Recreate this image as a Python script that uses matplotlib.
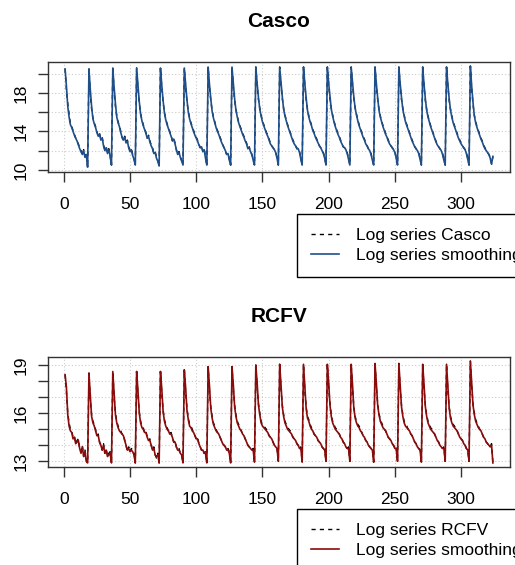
import matplotlib.pyplot as plt

plt.rcParams['font.family'] = ['Liberation Sans', 'DejaVu Sans']

# each series is stored as 18 cycles of 18 observations (t = 1..324)
casco_log_cycles = [
    [20.5, 18.3, 16.9, 15.8, 14.8, 14.5, 14.1, 13.7, 13.3, 13.0, 12.7, 12.3, 12.0, 11.5, 12.1, 11.4, 11.8, 10.2],
    [20.5, 18.0, 16.3, 15.4, 14.9, 14.5, 14.0, 13.5, 13.8, 13.2, 13.4, 12.6, 12.1, 12.4, 11.8, 12.2, 11.5, 10.5],
    [20.6, 18.2, 16.6, 15.6, 15.0, 14.6, 14.0, 13.4, 13.0, 13.5, 12.9, 13.1, 12.4, 12.0, 12.2, 11.6, 11.2, 10.5],
    [20.6, 18.4, 16.9, 15.9, 15.2, 14.7, 14.3, 13.9, 13.3, 13.6, 13.0, 12.6, 12.3, 11.7, 11.9, 11.3, 11.0, 10.4],
    [20.6, 18.5, 17.0, 16.0, 15.3, 14.8, 14.4, 14.0, 13.6, 13.0, 13.3, 12.8, 12.1, 11.6, 11.9, 11.4, 11.0, 10.5],
    [20.6, 18.6, 17.1, 16.1, 15.4, 14.9, 14.5, 14.1, 13.7, 13.4, 13.1, 12.7, 12.3, 12.5, 11.9, 12.2, 11.3, 10.5],
    [20.7, 18.6, 17.2, 16.2, 15.5, 15.0, 14.5, 14.1, 13.8, 13.4, 13.0, 12.6, 12.3, 12.0, 11.6, 11.8, 11.1, 10.5],
    [20.7, 18.7, 17.2, 16.3, 15.6, 15.0, 14.6, 14.2, 13.8, 13.5, 13.1, 12.8, 12.2, 12.4, 11.9, 11.6, 11.1, 10.5],
    [20.7, 18.8, 17.3, 16.4, 15.7, 15.1, 14.7, 14.3, 13.9, 13.6, 13.2, 12.8, 12.5, 12.3, 12.1, 11.9, 11.3, 10.5],
    [20.7, 18.9, 17.4, 16.4, 15.7, 15.2, 14.7, 14.3, 13.9, 13.5, 13.1, 12.8, 12.6, 12.2, 12.3, 11.9, 11.2, 10.5],
    [20.7, 18.8, 17.3, 16.3, 15.6, 15.1, 14.7, 14.2, 13.9, 13.5, 13.2, 12.9, 12.5, 12.3, 12.0, 11.8, 11.3, 10.5],
    [20.7, 18.8, 17.4, 16.4, 15.7, 15.1, 14.6, 14.2, 13.8, 13.5, 13.1, 12.7, 12.4, 12.3, 12.1, 11.8, 11.2, 10.5],
    [20.7, 18.9, 17.4, 16.5, 15.8, 15.2, 14.7, 14.3, 13.9, 13.5, 13.2, 12.8, 12.5, 12.2, 12.0, 11.7, 11.1, 10.5],
    [20.7, 18.8, 17.3, 16.3, 15.6, 15.1, 14.6, 14.2, 13.8, 13.5, 13.1, 12.8, 12.5, 12.3, 12.1, 11.9, 11.3, 10.5],
    [20.7, 18.8, 17.3, 16.4, 15.7, 15.1, 14.7, 14.3, 13.9, 13.5, 13.1, 12.8, 12.4, 12.2, 12.0, 11.8, 11.2, 10.5],
    [20.7, 18.7, 17.2, 16.3, 15.6, 15.1, 14.6, 14.2, 13.8, 13.4, 13.0, 12.7, 12.4, 12.2, 12.0, 11.7, 11.1, 10.5],
    [20.7, 18.7, 17.2, 16.3, 15.6, 15.0, 14.6, 14.2, 13.8, 13.4, 13.1, 12.8, 12.5, 12.3, 12.1, 11.8, 11.2, 10.5],
    [20.8, 18.4, 16.8, 15.7, 15.0, 14.5, 14.1, 13.7, 13.3, 13.0, 12.6, 12.3, 12.0, 11.8, 11.6, 11.3, 10.6, 11.4],
]

casco_smooth_cycles = [
    [20.5, 18.7, 16.6, 15.5, 14.7, 14.4, 14.0, 13.6, 13.3, 13.0, 12.6, 12.2, 11.9, 11.6, 12.0, 11.3, 11.6, 10.3],
    [20.5, 18.4, 16.6, 15.3, 14.8, 14.4, 13.9, 13.5, 13.7, 13.1, 13.3, 12.5, 12.0, 12.3, 11.7, 12.1, 11.4, 10.5],
    [20.6, 18.6, 16.9, 15.5, 14.9, 14.5, 13.9, 13.4, 13.1, 13.4, 12.8, 13.0, 12.3, 11.9, 12.1, 11.5, 11.1, 10.5],
    [20.6, 18.8, 17.1, 15.8, 15.1, 14.6, 14.2, 13.8, 13.3, 13.5, 12.9, 12.5, 12.2, 11.7, 11.8, 11.2, 10.9, 10.4],
    [20.6, 18.8, 17.2, 15.9, 15.2, 14.7, 14.3, 13.9, 13.5, 13.1, 13.2, 12.7, 12.1, 11.6, 11.8, 11.3, 10.9, 10.5],
    [20.6, 18.9, 17.3, 16.0, 15.3, 14.8, 14.4, 14.0, 13.6, 13.3, 13.0, 12.6, 12.3, 12.4, 11.9, 12.1, 11.2, 10.5],
    [20.7, 18.9, 17.4, 16.1, 15.4, 14.9, 14.4, 14.0, 13.7, 13.3, 12.9, 12.6, 12.3, 12.0, 11.6, 11.7, 11.0, 10.5],
    [20.7, 19.0, 17.4, 16.2, 15.5, 14.9, 14.5, 14.1, 13.7, 13.4, 13.0, 12.7, 12.2, 12.3, 11.9, 11.6, 11.0, 10.5],
    [20.7, 19.0, 17.5, 16.3, 15.6, 15.0, 14.6, 14.2, 13.8, 13.5, 13.1, 12.7, 12.5, 12.3, 12.1, 11.8, 11.2, 10.5],
    [20.7, 19.1, 17.6, 16.3, 15.6, 15.1, 14.6, 14.2, 13.8, 13.4, 13.0, 12.7, 12.5, 12.2, 12.2, 11.8, 11.1, 10.5],
    [20.7, 19.0, 17.5, 16.2, 15.5, 15.0, 14.6, 14.1, 13.8, 13.4, 13.1, 12.8, 12.5, 12.3, 12.0, 11.7, 11.2, 10.5],
    [20.7, 19.0, 17.6, 16.3, 15.6, 15.0, 14.5, 14.1, 13.7, 13.4, 13.0, 12.7, 12.4, 12.3, 12.1, 11.7, 11.1, 10.5],
    [20.7, 19.1, 17.6, 16.4, 15.7, 15.1, 14.6, 14.2, 13.8, 13.4, 13.1, 12.7, 12.5, 12.2, 12.0, 11.6, 11.0, 10.5],
    [20.7, 19.0, 17.5, 16.2, 15.5, 15.0, 14.5, 14.1, 13.7, 13.4, 13.0, 12.7, 12.5, 12.3, 12.1, 11.8, 11.2, 10.5],
    [20.7, 19.0, 17.5, 16.3, 15.6, 15.0, 14.6, 14.2, 13.8, 13.4, 13.0, 12.7, 12.4, 12.2, 12.0, 11.7, 11.1, 10.5],
    [20.7, 18.9, 17.4, 16.2, 15.5, 15.0, 14.5, 14.1, 13.7, 13.3, 12.9, 12.6, 12.4, 12.2, 12.0, 11.6, 11.0, 10.5],
    [20.7, 18.9, 17.4, 16.2, 15.5, 14.9, 14.5, 14.1, 13.7, 13.3, 13.0, 12.7, 12.5, 12.3, 12.1, 11.7, 11.1, 10.5],
    [20.8, 18.7, 17.0, 15.6, 14.9, 14.4, 14.0, 13.6, 13.2, 12.9, 12.5, 12.2, 12.0, 11.8, 11.6, 11.2, 10.6, 11.4],
]

rcfv_log_cycles = [
    [18.4, 17.3, 16.0, 15.4, 15.0, 14.9, 14.5, 14.6, 14.1, 14.3, 14.4, 13.8, 13.6, 14.0, 13.3, 13.7, 13.1, 12.9],
    [18.5, 16.8, 15.9, 15.5, 15.3, 15.0, 14.6, 14.7, 14.2, 14.0, 13.7, 14.1, 13.5, 13.8, 13.3, 13.5, 13.6, 12.9],
    [18.6, 17.0, 16.0, 15.5, 15.2, 15.0, 14.9, 14.7, 14.7, 14.3, 14.0, 13.6, 13.9, 13.6, 13.8, 13.7, 13.5, 12.9],
    [18.6, 17.1, 16.1, 15.5, 15.2, 15.1, 14.8, 14.9, 14.5, 14.3, 14.4, 14.0, 13.7, 13.9, 13.4, 13.2, 13.5, 12.9],
    [18.6, 17.2, 16.2, 15.6, 15.3, 15.1, 14.9, 14.7, 14.8, 14.5, 14.2, 14.3, 13.9, 13.7, 13.8, 13.5, 13.4, 12.9],
    [18.7, 17.3, 16.3, 15.7, 15.3, 15.2, 15.0, 14.8, 14.6, 14.4, 14.5, 14.1, 13.9, 13.7, 13.8, 13.5, 13.6, 12.9],
    [18.9, 17.4, 16.4, 15.8, 15.4, 15.2, 15.0, 14.8, 14.7, 14.5, 14.3, 14.1, 14.0, 13.9, 13.7, 13.8, 13.6, 12.9],
    [18.9, 17.5, 16.5, 15.9, 15.5, 15.3, 15.1, 14.9, 14.7, 14.6, 14.4, 14.2, 14.0, 13.9, 13.8, 13.7, 13.8, 12.95],
    [19.0, 17.6, 16.6, 16.0, 15.5, 15.3, 15.2, 15.1, 15.0, 14.8, 14.6, 14.5, 14.4, 14.2, 14.0, 13.9, 13.8, 13.0],
    [19.05, 17.5, 16.5, 15.9, 15.5, 15.3, 15.1, 15.0, 14.9, 14.7, 14.5, 14.4, 14.3, 14.1, 14.0, 13.8, 13.9, 12.95],
    [19.05, 17.4, 16.4, 15.8, 15.6, 15.3, 15.1, 14.9, 14.7, 14.6, 14.5, 14.3, 14.2, 14.1, 13.9, 13.8, 13.7, 13.0],
    [19.05, 17.6, 16.6, 15.9, 15.5, 15.3, 15.1, 15.0, 14.8, 14.7, 14.5, 14.4, 14.2, 14.1, 13.9, 13.8, 13.9, 13.0],
    [19.05, 17.5, 16.4, 15.8, 15.5, 15.3, 15.2, 15.0, 14.8, 14.6, 14.5, 14.3, 14.2, 14.0, 13.9, 13.8, 13.7, 12.95],
    [19.1, 17.6, 16.6, 16.0, 15.6, 15.4, 15.2, 15.0, 14.9, 14.7, 14.5, 14.4, 14.3, 14.1, 14.0, 13.8, 13.9, 13.0],
    [19.1, 17.5, 16.5, 15.9, 15.5, 15.3, 15.2, 15.0, 14.9, 14.7, 14.6, 14.4, 14.2, 14.1, 13.9, 13.8, 13.7, 12.95],
    [19.05, 17.5, 16.5, 15.9, 15.5, 15.3, 15.1, 15.0, 14.8, 14.7, 14.5, 14.3, 14.2, 14.0, 13.9, 13.8, 13.9, 13.0],
    [19.05, 17.4, 16.4, 15.8, 15.5, 15.3, 15.2, 15.0, 14.9, 14.7, 14.5, 14.4, 14.3, 14.1, 14.0, 13.8, 13.7, 13.0],
    [19.25, 17.6, 16.6, 16.0, 15.6, 15.4, 15.2, 15.0, 14.9, 14.7, 14.5, 14.4, 14.2, 14.1, 14.0, 13.9, 14.1, 12.9],
]

rcfv_smooth_cycles = [
    [18.4, 17.6, 15.9, 15.2, 14.9, 14.8, 14.4, 14.5, 14.1, 14.2, 14.3, 13.8, 13.5, 13.9, 13.3, 13.6, 13.0, 12.9],
    [18.5, 17.2, 15.8, 15.4, 15.2, 14.9, 14.6, 14.6, 14.2, 14.0, 13.7, 14.0, 13.5, 13.7, 13.3, 13.4, 13.5, 12.9],
    [18.6, 17.3, 15.9, 15.4, 15.1, 14.9, 14.8, 14.7, 14.6, 14.3, 14.0, 13.7, 13.8, 13.6, 13.7, 13.6, 13.4, 12.9],
    [18.6, 17.4, 16.0, 15.4, 15.1, 15.0, 14.8, 14.8, 14.5, 14.3, 14.3, 14.0, 13.7, 13.8, 13.4, 13.3, 13.4, 12.9],
    [18.6, 17.5, 16.1, 15.5, 15.2, 15.0, 14.9, 14.7, 14.7, 14.5, 14.2, 14.2, 13.9, 13.7, 13.7, 13.5, 13.4, 12.9],
    [18.7, 17.6, 16.2, 15.6, 15.2, 15.1, 14.9, 14.8, 14.6, 14.4, 14.4, 14.1, 13.9, 13.7, 13.7, 13.5, 13.5, 12.9],
    [18.9, 17.7, 16.3, 15.7, 15.3, 15.1, 14.9, 14.8, 14.7, 14.5, 14.3, 14.1, 14.0, 13.9, 13.7, 13.7, 13.5, 12.9],
    [18.9, 17.8, 16.4, 15.8, 15.4, 15.2, 15.0, 14.9, 14.7, 14.6, 14.4, 14.2, 14.0, 13.9, 13.8, 13.7, 13.7, 12.95],
    [19.0, 17.9, 16.5, 15.9, 15.4, 15.2, 15.1, 15.0, 14.9, 14.8, 14.6, 14.5, 14.4, 14.2, 14.0, 13.9, 13.8, 13.0],
    [19.05, 17.8, 16.4, 15.8, 15.4, 15.2, 15.0, 14.9, 14.8, 14.7, 14.5, 14.4, 14.3, 14.1, 14.0, 13.8, 13.8, 12.95],
    [19.05, 17.7, 16.3, 15.7, 15.5, 15.2, 15.0, 14.9, 14.7, 14.6, 14.5, 14.3, 14.2, 14.1, 13.9, 13.8, 13.7, 13.0],
    [19.05, 17.9, 16.5, 15.8, 15.4, 15.2, 15.0, 14.9, 14.8, 14.7, 14.5, 14.4, 14.2, 14.1, 13.9, 13.8, 13.8, 13.0],
    [19.05, 17.8, 16.3, 15.7, 15.4, 15.2, 15.1, 14.9, 14.8, 14.6, 14.5, 14.3, 14.2, 14.0, 13.9, 13.8, 13.7, 12.95],
    [19.1, 17.9, 16.5, 15.9, 15.5, 15.3, 15.1, 15.0, 14.9, 14.7, 14.5, 14.4, 14.3, 14.1, 14.0, 13.8, 13.8, 13.0],
    [19.1, 17.8, 16.4, 15.8, 15.4, 15.2, 15.1, 15.0, 14.9, 14.7, 14.6, 14.4, 14.2, 14.1, 13.9, 13.8, 13.7, 12.95],
    [19.05, 17.8, 16.4, 15.8, 15.4, 15.2, 15.0, 14.9, 14.8, 14.7, 14.5, 14.3, 14.2, 14.0, 13.9, 13.8, 13.8, 13.0],
    [19.05, 17.7, 16.3, 15.7, 15.4, 15.2, 15.1, 15.0, 14.9, 14.7, 14.5, 14.4, 14.3, 14.1, 14.0, 13.8, 13.7, 13.0],
    [19.25, 17.9, 16.5, 15.9, 15.5, 15.3, 15.1, 15.0, 14.9, 14.7, 14.5, 14.4, 14.2, 14.1, 14.0, 13.9, 14.0, 12.9],
]

x_ticks = [0, 50, 100, 150, 200, 250, 300]
casco_yticks = [10, 12, 14, 16, 18, 20]
casco_ylabels = ["10", "", "14", "", "18", ""]
rcfv_yticks = [13, 14, 15, 16, 17, 18, 19]
rcfv_ylabels = ["13", "", "", "16", "", "", "19"]


def flatten(cycles):
    return [v for c in cycles for v in c]


def panel(fig, rect, title, log_vals, smooth_vals, color, yticks, ylabels, leg_name, leg_top):
    ax = fig.add_axes(rect)
    t = list(range(1, len(log_vals) + 1))
    ax.plot(t, log_vals, color="black", lw=1.0, dashes=(3, 3), label=leg_name)
    ax.plot(t, smooth_vals, color=color, lw=1.2, label="Log series smoothing")
    ax.margins(x=0.04, y=0.04)

    ax.set_xticks(x_ticks)
    ax.set_yticks(yticks)
    ax.set_yticklabels(ylabels, rotation=90, va="center")
    ax.grid(True, color="#cccccc", linestyle=(0, (1, 2)), linewidth=0.8)
    ax.tick_params(direction="out", length=7, width=1, color="#333333",
                   labelsize=12.5)
    ax.tick_params(axis="x", pad=11)
    ax.tick_params(axis="y", pad=7)
    for s in ax.spines.values():
        s.set_color("#333333")
        s.set_linewidth(1)
    ax.set_title(title, fontweight="bold", fontsize=15, pad=25)

    ax.legend(loc="upper left", bbox_to_anchor=(297 / 515, leg_top),
              bbox_transform=fig.transFigure, fontsize=12.5, frameon=True,
              fancybox=False, edgecolor="black", framealpha=1,
              borderpad=0.8, handlelength=1.6, handletextpad=1.0,
              labelspacing=0.28, borderaxespad=0)
    ax.get_legend().get_frame().set_linewidth(1)
    return ax


fig = plt.figure(figsize=(5.15, 5.65), dpi=100)

panel(fig, [48 / 515, 1 - 172 / 565, 462 / 515, 110 / 565], "Casco",
      flatten(casco_log_cycles), flatten(casco_smooth_cycles), "#1f4f8a",
      casco_yticks, casco_ylabels, "Log series Casco", 1 - 214 / 565)
panel(fig, [48 / 515, 1 - 467 / 565, 462 / 515, 110 / 565], "RCFV",
      flatten(rcfv_log_cycles), flatten(rcfv_smooth_cycles), "#8b0a0a",
      rcfv_yticks, rcfv_ylabels, "Log series RCFV", 1 - 509 / 565)

fig.savefig("out.png", dpi=100)
